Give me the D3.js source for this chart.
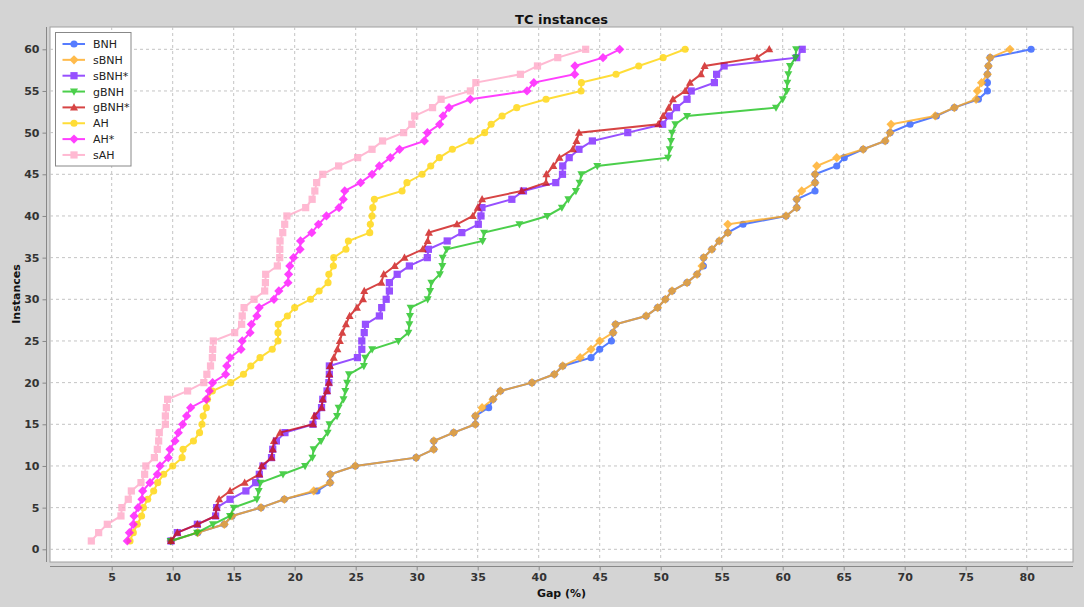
<!DOCTYPE html>
<html><head><meta charset="utf-8">
<script src="https://cdn.jsdelivr.net/npm/d3@7/dist/d3.min.js"></script>
<style>
body{margin:0;background:#d4d4d4;}
svg{display:block;font-family:"DejaVu Sans",sans-serif;}
</style></head>
<body><svg id="chart" width="1084" height="607"></svg>
<script>
// ---- data ----
const instances = d3.range(1, 61);
const seriesNames = ["BNH","sBNH","sBNH*","gBNH","gBNH*","AH","AH*","sAH"];
const xTickValues = [5,10,15,20,25,30,35,40,45,50,55,60,65,70,75,80];
const yTickValues = [0,5,10,15,20,25,30,35,40,45,50,55,60];

const BNH = [9.86,12.05,14.23,14.86,17.24,19.15,21.83,22.9,22.92,24.97,
  29.95,31.4,31.4,33.03,34.81,34.81,35.9,36.26,36.86,39.45,
  41.28,41.97,44.29,45.0,45.96,46.1,46.3,48.8,49.75,50.38,
  50.93,52.16,52.98,53.5,53.52,54.2,54.8,55.5,56.75,60.27,
  61.15,61.15,62.65,62.65,62.65,64.43,65.05,66.6,68.4,68.8,
  70.44,72.6,74.07,76.04,76.78,76.78,76.78,76.86,77.0,80.36];
const sBNH = [9.86,12.05,14.23,14.86,17.24,19.15,21.56,22.9,22.92,24.97,
  29.95,31.4,31.4,33.03,34.81,34.81,35.36,36.26,36.86,39.45,
  41.28,41.97,43.4,44.29,45.0,46.1,46.3,48.8,49.75,50.38,
  50.93,52.16,52.98,53.39,53.52,54.2,54.8,55.5,55.5,60.27,
  61.15,61.15,61.56,62.65,62.65,62.79,64.43,66.6,68.4,68.8,
  68.88,72.5,74.07,75.85,75.96,76.3,76.78,76.86,77.0,78.63];
const sBNHstar = [9.86,10.38,12.02,13.52,13.6,14.7,16.0,16.8,17.1,17.4,
  18.1,18.2,18.5,19.2,21.5,21.8,22.2,22.3,22.65,22.8,
  22.84,22.84,25.14,25.5,25.5,25.7,25.8,26.94,27.13,27.5,
  27.76,27.76,28.4,29.4,30.87,30.96,32.5,33.7,35.05,35.27,
  35.35,37.8,38.75,41.4,41.95,41.97,42.5,43.3,44.4,47.3,
  50.16,50.7,51.3,52.16,52.5,54.4,54.58,55.2,61.15,61.6];
const gBNH = [9.83,12.0,13.3,14.7,15.0,16.9,17.05,17.2,19.04,20.85,
  21.45,21.55,22.16,22.7,22.85,23.47,23.6,24.0,24.15,24.3,
  24.45,25.67,25.78,26.35,28.5,29.32,29.4,29.45,29.5,30.9,
  31.1,31.2,31.9,32.1,32.13,32.46,35.4,35.52,38.42,40.7,
  41.9,42.43,43.05,43.35,43.5,44.8,50.6,50.74,50.85,50.93,
  51.2,52.16,59.45,60.0,60.33,60.38,60.46,60.6,61.05,61.1];
const gBNHstar = [9.86,10.38,12.02,13.5,13.6,13.8,14.7,15.9,17.1,17.3,
  18.1,18.2,18.3,18.8,21.5,21.6,22.2,22.3,22.65,22.8,
  22.84,22.9,23.2,23.5,23.7,23.9,24.2,24.5,25.1,25.6,
  25.7,27.1,27.3,28.2,29.0,30.5,30.9,31.0,33.3,34.6,
  35.0,35.36,38.6,40.6,40.63,41.2,41.7,42.8,43.1,43.3,
  49.8,50.2,50.66,51.0,52.0,52.4,53.3,53.6,57.9,58.9];
const AH = [6.5,6.77,7.1,7.45,7.6,7.95,8.44,8.77,9.26,10.0,
  10.77,10.85,11.7,12.2,12.4,12.5,12.76,12.85,13.25,14.75,
  15.8,16.4,17.16,18.16,18.63,18.63,18.65,19.4,20.0,21.3,
  22.0,22.73,22.8,23.17,23.2,24.2,24.4,26.15,26.2,26.34,
  26.4,26.53,28.8,29.2,30.44,31.15,31.86,32.92,34.45,35.57,
  36.1,37.0,38.2,40.6,43.47,43.5,46.34,48.2,50.2,52.0];
const AHstar = [6.28,6.45,6.77,6.83,7.16,7.48,7.54,8.14,8.74,8.96,
  9.64,9.78,10.19,10.46,10.82,11.14,11.47,12.75,13.0,13.27,
  14.34,14.43,14.7,15.6,15.7,16.34,16.45,16.9,17.08,18.3,
  18.7,19.45,19.5,19.6,19.9,20.44,20.48,21.4,21.95,22.6,
  23.63,23.98,24.1,25.4,26.34,26.94,27.84,28.6,30.63,30.88,
  31.88,32.16,32.65,34.4,39.04,39.6,42.95,42.97,45.27,46.64];
const sAH = [3.33,3.93,4.64,5.76,5.84,6.36,6.61,7.4,7.7,7.8,
  8.5,8.74,8.85,8.9,9.4,9.4,9.48,9.58,11.22,12.55,
  12.8,13.1,13.25,13.28,13.33,15.08,15.65,15.7,15.85,16.67,
  17.54,17.6,17.62,18.58,18.77,18.78,18.8,19.02,19.18,19.36,
  20.9,21.43,21.65,21.8,22.3,23.6,25.16,26.34,27.2,28.93,
  29.6,29.84,31.3,32.0,34.4,34.85,38.5,39.9,41.56,43.85];

// ---- styles ----
const seriesValues = [BNH, sBNH, sBNHstar, gBNH, gBNHstar, AH, AHstar, sAH];
const colors = ["#2c5cff","#ffa91a","#7a1fff","#1fc41f","#cc1010","#ffd400","#ff10ff","#ffa6c6"];
const opac = [0.8,0.78,0.78,0.8,0.78,0.78,0.8,0.78];
const shapes = ["circle","diamond","square","down","up","circle","diamond","square"];

const svg = d3.select("#chart");
const W = 1084, H = 607;
const plot = {l:50, r:1073, t:27, b:562};

const x = d3.scaleLinear().domain([0,80]).range([50.7,1026.7]);
const y = d3.scaleLinear().domain([0,60]).range([549.3,49.3]);

svg.append("rect").attr("width",W).attr("height",H).attr("fill","#d4d4d4");
svg.append("rect").attr("x",plot.l).attr("y",plot.t).attr("width",plot.r-plot.l).attr("height",plot.b-plot.t)
  .attr("fill","#fff").attr("stroke","#a0a0a0").attr("stroke-width",1);

// grid
const grid = svg.append("g").attr("stroke","#c4c4c4").attr("stroke-dasharray","3,3").attr("stroke-width",1);
xTickValues.forEach(v=>grid.append("line").attr("x1",x(v)).attr("x2",x(v)).attr("y1",plot.t).attr("y2",plot.b));
yTickValues.forEach(v=>grid.append("line").attr("x1",plot.l).attr("x2",plot.r).attr("y1",y(v)).attr("y2",y(v)));

// axes
const xAxis = d3.axisBottom(x).tickValues(xTickValues).tickSize(4).tickSizeOuter(0).tickPadding(3);
const gx = svg.append("g").attr("transform",`translate(0,566.5)`).call(xAxis);
gx.select(".domain").attr("d",`M${plot.l},0H${plot.r}`).attr("stroke","#888");
gx.selectAll(".tick line").attr("stroke","#888");
gx.selectAll("text").attr("font-family","DejaVu Sans").attr("font-size",11).attr("font-weight","bold").attr("fill","#333");

const yAxis = d3.axisLeft(y).tickValues(yTickValues).tickSize(4).tickSizeOuter(0).tickPadding(3);
const gy = svg.append("g").attr("transform",`translate(46.5,0)`).call(yAxis);
gy.select(".domain").attr("d",`M0,${plot.t}V${plot.b}`).attr("stroke","#888");
gy.selectAll(".tick line").attr("stroke","#888");
gy.selectAll("text").attr("font-family","DejaVu Sans").attr("font-size",11).attr("font-weight","bold").attr("fill","#333");

// titles
svg.append("text").attr("x",561.5).attr("y",23.5).attr("text-anchor","middle")
  .attr("font-size",13).attr("font-weight","bold").attr("fill","#111").text("TC instances");
svg.append("text").attr("x",561.5).attr("y",597).attr("text-anchor","middle")
  .attr("font-size",11).attr("font-weight","bold").attr("fill","#111").text("Gap (%)");
svg.append("text").attr("transform","translate(20,294) rotate(-90)").attr("text-anchor","middle")
  .attr("font-size",11).attr("font-weight","bold").attr("fill","#111").text("Instances");

function symPath(shape){
  switch(shape){
    case "circle": return d3.symbol().type(d3.symbolCircle).size(40)();
    case "square": return d3.symbol().type(d3.symbolSquare).size(52)();
    case "diamond": return "M0,-4.6L4.6,0L0,4.6L-4.6,0Z";
    case "up": return "M0,-4.2L4,3L-4,3Z";
    case "down": return "M0,4.2L4,-3L-4,-3Z";
  }
}

const clip = svg.append("clipPath").attr("id","pc").append("rect")
  .attr("x",plot.l).attr("y",plot.t).attr("width",plot.r-plot.l).attr("height",plot.b-plot.t);
const series = svg.append("g").attr("clip-path","url(#pc)");
const line = d3.line().x(d=>x(d[0])).y(d=>y(d[1]));

seriesNames.forEach((name,i)=>{
  const pts = seriesValues[i].map((v,j)=>[v, instances[j]]);
  const g = series.append("g").attr("opacity",opac[i]);
  g.append("path").attr("d",line(pts)).attr("fill","none").attr("stroke",colors[i]).attr("stroke-width",2);
  const p = symPath(shapes[i]);
  g.selectAll("path.m").data(pts).join("path").attr("class","m")
    .attr("d",p).attr("transform",d=>`translate(${x(d[0])},${y(d[1])})`).attr("fill",colors[i]);
});

// legend
const lg = svg.append("g");
lg.append("rect").attr("x",55.5).attr("y",32.5).attr("width",75.5).attr("height",133.5)
  .attr("fill","#fff").attr("stroke","#888");
seriesNames.forEach((name,i)=>{
  const yy = 44 + i*15.85;
  const g = lg.append("g").attr("opacity",opac[i]);
  g.append("line").attr("x1",62.5).attr("x2",85).attr("y1",yy).attr("y2",yy).attr("stroke",colors[i]).attr("stroke-width",2);
  g.append("path").attr("d",symPath(shapes[i])).attr("transform",`translate(74,${yy})`).attr("fill",colors[i]);
  lg.append("text").attr("x",93).attr("y",yy+4).attr("font-size",11).attr("fill","#222").text(name);
});
</script>
</body></html>
